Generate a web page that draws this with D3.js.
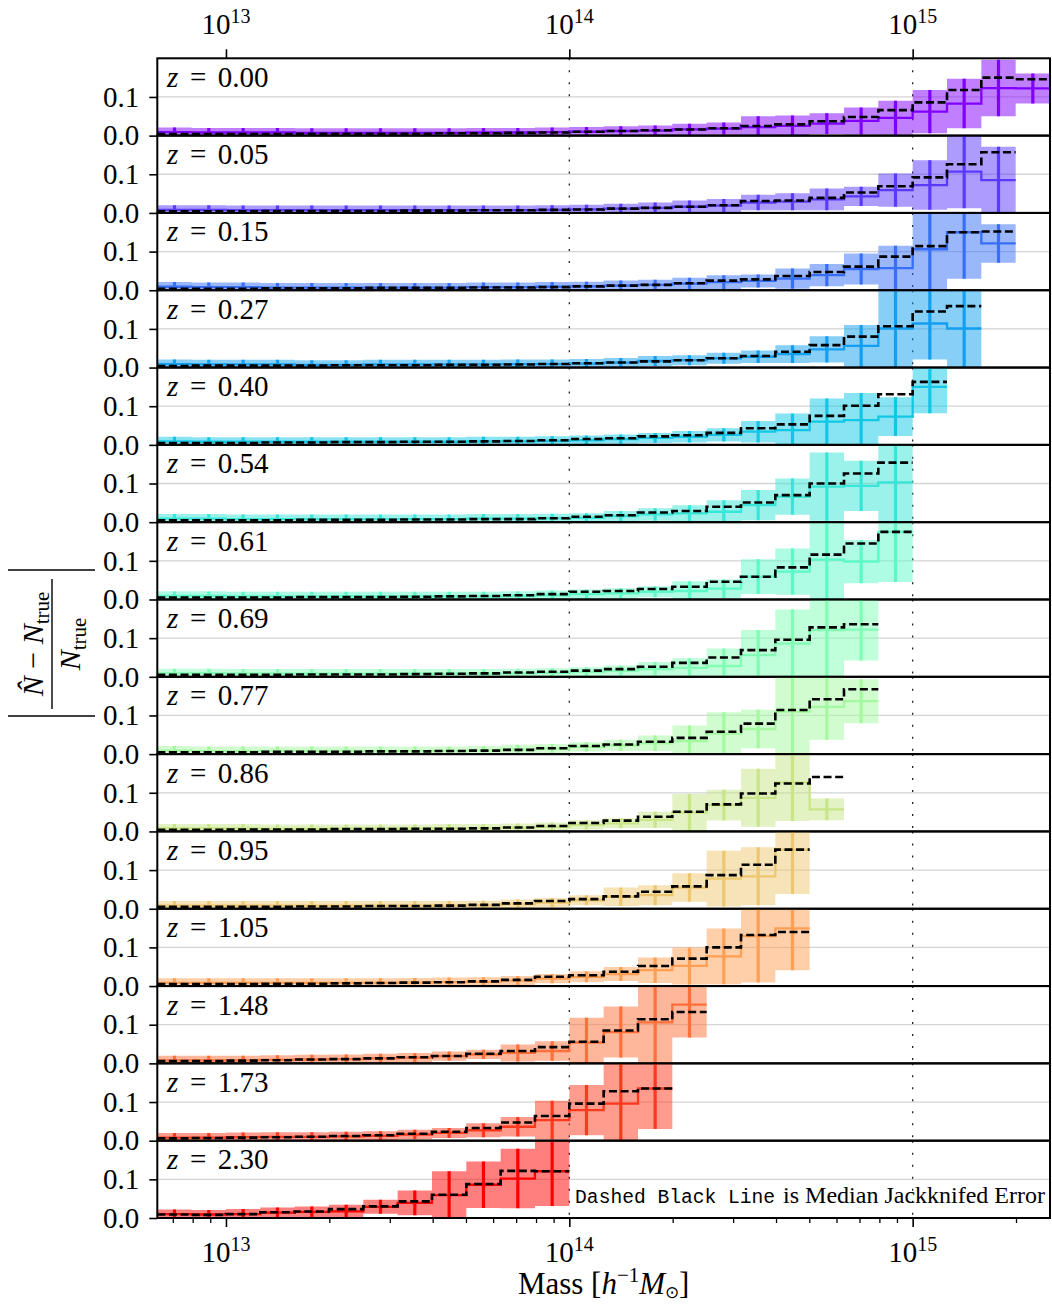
<!DOCTYPE html>
<html>
<head>
<meta charset="utf-8">
<script src="https://cdn.jsdelivr.net/npm/d3@7"></script>
<style>
  body { margin: 0; background: #fff; }
  svg { display: block; }
  text { font-family: "Liberation Serif", serif; fill: #000; }
</style>
</head>
<body>
<div class="chart"></div>
<script>
// redshift of each panel
const redshifts = ["0.00", "0.05", "0.15", "0.27", "0.40", "0.54", "0.61", "0.69", "0.77", "0.86", "0.95", "1.05", "1.48", "1.73", "2.30"];

// mass bins: 0.1 dex wide, starting at 10^12.8
const logMassStart = 12.8;
const logBinWidth = 0.1;

// |N_hat - N_true| / N_true per bin (solid step line)
const fracErr = [
  [0.009,0.008,0.008,0.008,0.007,0.007,0.007,0.007,0.007,0.008,0.008,0.009,0.010,0.012,0.013,0.016,0.018,0.022,0.025,0.031,0.038,0.046,0.062,0.083,0.123,0.122],
  [0.008,0.008,0.007,0.007,0.007,0.007,0.007,0.007,0.007,0.007,0.007,0.008,0.009,0.011,0.013,0.016,0.019,0.027,0.029,0.035,0.043,0.059,0.072,0.107,0.085],
  [0.009,0.008,0.008,0.007,0.007,0.007,0.007,0.007,0.007,0.008,0.008,0.009,0.010,0.012,0.014,0.017,0.021,0.024,0.030,0.039,0.055,0.057,0.106,0.150,0.121],
  [0.009,0.008,0.008,0.008,0.007,0.007,0.008,0.008,0.008,0.008,0.009,0.009,0.010,0.013,0.017,0.019,0.024,0.028,0.035,0.047,0.056,0.101,0.114,0.101],
  [0.009,0.008,0.008,0.008,0.008,0.008,0.008,0.008,0.008,0.009,0.009,0.010,0.012,0.015,0.018,0.021,0.026,0.034,0.038,0.060,0.064,0.073,0.150],
  [0.009,0.009,0.008,0.008,0.008,0.008,0.008,0.008,0.008,0.009,0.009,0.010,0.011,0.016,0.020,0.023,0.027,0.044,0.066,0.092,0.094,0.103],
  [0.009,0.009,0.008,0.008,0.008,0.008,0.008,0.008,0.008,0.008,0.009,0.011,0.014,0.016,0.020,0.022,0.028,0.059,0.072,0.103,0.098,0.175],
  [0.009,0.009,0.008,0.008,0.008,0.008,0.008,0.008,0.008,0.008,0.009,0.010,0.013,0.016,0.020,0.023,0.028,0.056,0.086,0.121,0.122],
  [0.009,0.008,0.008,0.008,0.008,0.008,0.008,0.008,0.008,0.009,0.012,0.014,0.019,0.023,0.028,0.034,0.053,0.065,0.110,0.122,0.137],
  [0.008,0.008,0.008,0.007,0.007,0.007,0.007,0.007,0.008,0.008,0.0095,0.012,0.017,0.021,0.030,0.049,0.068,0.087,0.127,0.057],
  [0.008,0.008,0.008,0.008,0.008,0.008,0.008,0.008,0.008,0.009,0.012,0.016,0.022,0.031,0.035,0.055,0.078,0.084,0.153],
  [0.008,0.008,0.008,0.008,0.008,0.008,0.008,0.009,0.010,0.011,0.014,0.019,0.024,0.031,0.041,0.052,0.077,0.129,0.149],
  [0.008,0.008,0.008,0.009,0.010,0.011,0.013,0.015,0.019,0.023,0.027,0.032,0.054,0.081,0.106,0.152],
  [0.008,0.008,0.009,0.010,0.010,0.011,0.0125,0.016,0.020,0.027,0.036,0.053,0.079,0.096,0.135],
  [0.010,0.009,0.010,0.014,0.016,0.017,0.029,0.039,0.059,0.086,0.102,0.121]
];

// spread of the error per bin (shaded band and error bars)
const fracErrSpread = [
  [0.012,0.012,0.012,0.012,0.012,0.012,0.012,0.012,0.012,0.012,0.012,0.012,0.012,0.012,0.013,0.015,0.016,0.028,0.027,0.027,0.035,0.044,0.056,0.064,0.073,0.039],
  [0.012,0.012,0.012,0.012,0.012,0.012,0.012,0.012,0.012,0.012,0.012,0.012,0.012,0.013,0.014,0.016,0.017,0.020,0.022,0.028,0.025,0.043,0.064,0.095,0.086],
  [0.012,0.012,0.012,0.012,0.012,0.012,0.012,0.012,0.012,0.012,0.012,0.012,0.012,0.013,0.013,0.015,0.018,0.017,0.026,0.029,0.040,0.058,0.110,0.120,0.050],
  [0.012,0.012,0.012,0.012,0.012,0.012,0.012,0.012,0.012,0.012,0.012,0.012,0.012,0.012,0.013,0.013,0.014,0.016,0.023,0.034,0.054,0.110,0.093,0.110],
  [0.012,0.012,0.012,0.012,0.012,0.012,0.012,0.012,0.012,0.012,0.012,0.012,0.012,0.012,0.013,0.015,0.017,0.028,0.043,0.060,0.070,0.050,0.068],
  [0.012,0.012,0.012,0.012,0.012,0.012,0.012,0.012,0.012,0.012,0.012,0.012,0.012,0.013,0.016,0.021,0.030,0.039,0.047,0.088,0.065,0.110],
  [0.012,0.012,0.012,0.012,0.012,0.012,0.012,0.012,0.012,0.012,0.012,0.012,0.012,0.013,0.014,0.025,0.024,0.045,0.060,0.110,0.056,0.130],
  [0.012,0.012,0.012,0.012,0.012,0.012,0.012,0.012,0.012,0.012,0.012,0.012,0.012,0.013,0.018,0.025,0.045,0.065,0.088,0.125,0.080],
  [0.012,0.012,0.012,0.012,0.012,0.012,0.012,0.012,0.012,0.012,0.012,0.012,0.012,0.014,0.020,0.040,0.055,0.050,0.110,0.085,0.057],
  [0.011,0.011,0.011,0.011,0.011,0.011,0.011,0.011,0.011,0.011,0.011,0.011,0.012,0.013,0.021,0.048,0.040,0.075,0.100,0.028],
  [0.012,0.012,0.012,0.012,0.012,0.012,0.012,0.012,0.012,0.012,0.012,0.012,0.013,0.024,0.026,0.037,0.072,0.075,0.115],
  [0.012,0.012,0.012,0.012,0.012,0.012,0.012,0.012,0.012,0.012,0.012,0.012,0.014,0.018,0.033,0.048,0.072,0.120,0.108],
  [0.012,0.012,0.012,0.012,0.012,0.012,0.012,0.012,0.012,0.012,0.022,0.025,0.064,0.066,0.120,0.085],
  [0.012,0.012,0.012,0.012,0.012,0.012,0.012,0.012,0.013,0.018,0.025,0.050,0.065,0.110,0.105],
  [0.012,0.012,0.013,0.013,0.014,0.017,0.018,0.032,0.062,0.060,0.077,0.090]
];

// median jackknifed error per bin (dashed black line)
const medianJackknife = [
  [0.004,0.004,0.004,0.004,0.005,0.005,0.005,0.005,0.006,0.006,0.007,0.008,0.010,0.012,0.014,0.016,0.019,0.025,0.029,0.037,0.048,0.066,0.086,0.118,0.150,0.146],
  [0.004,0.004,0.004,0.005,0.005,0.005,0.005,0.006,0.006,0.007,0.007,0.008,0.009,0.011,0.013,0.016,0.020,0.031,0.032,0.039,0.053,0.069,0.092,0.126,0.157],
  [0.004,0.004,0.004,0.005,0.005,0.005,0.006,0.006,0.006,0.007,0.007,0.008,0.010,0.012,0.014,0.018,0.025,0.028,0.037,0.047,0.061,0.087,0.114,0.150,0.152],
  [0.004,0.005,0.005,0.005,0.005,0.006,0.006,0.006,0.007,0.007,0.008,0.009,0.011,0.013,0.016,0.019,0.024,0.030,0.041,0.058,0.080,0.107,0.145,0.159],
  [0.005,0.005,0.005,0.006,0.006,0.007,0.007,0.008,0.008,0.009,0.010,0.012,0.015,0.017,0.022,0.025,0.031,0.043,0.053,0.075,0.101,0.131,0.163],
  [0.005,0.005,0.005,0.005,0.006,0.006,0.006,0.007,0.007,0.008,0.008,0.010,0.014,0.018,0.025,0.029,0.040,0.051,0.070,0.100,0.126,0.154],
  [0.005,0.005,0.005,0.005,0.006,0.006,0.006,0.007,0.008,0.009,0.011,0.014,0.020,0.022,0.027,0.033,0.046,0.059,0.083,0.116,0.145,0.175],
  [0.005,0.005,0.005,0.005,0.006,0.006,0.006,0.007,0.008,0.009,0.011,0.013,0.016,0.020,0.026,0.036,0.050,0.069,0.096,0.128,0.136],
  [0.005,0.005,0.005,0.006,0.006,0.006,0.007,0.007,0.008,0.009,0.011,0.015,0.021,0.025,0.032,0.042,0.058,0.079,0.114,0.142,0.168],
  [0.004,0.004,0.005,0.005,0.005,0.006,0.006,0.007,0.007,0.008,0.010,0.014,0.022,0.028,0.038,0.051,0.070,0.098,0.124,0.141],
  [0.005,0.005,0.005,0.005,0.006,0.006,0.007,0.007,0.008,0.010,0.014,0.020,0.025,0.032,0.044,0.058,0.087,0.114,0.153],
  [0.005,0.005,0.005,0.006,0.006,0.007,0.008,0.009,0.010,0.012,0.016,0.024,0.028,0.037,0.052,0.071,0.100,0.132,0.140],
  [0.006,0.006,0.007,0.008,0.010,0.011,0.013,0.016,0.019,0.025,0.032,0.042,0.056,0.085,0.114,0.133],
  [0.006,0.007,0.008,0.009,0.010,0.012,0.014,0.018,0.023,0.033,0.047,0.064,0.096,0.128,0.135],
  [0.009,0.008,0.010,0.015,0.017,0.023,0.030,0.043,0.060,0.088,0.122,0.121]
];

const yTicks = [0.0, 0.1];
const xMajorTicks = [1e13, 1e14, 1e15];
const xMajorExp = ["13", "14", "15"];

// ---- layout ----
const svgW = 1052, svgH = 1306;
const plotLeft = 157.3, plotRight = 1050, plotTop = 58.3, plotBottom = 1218;
const nPanels = redshifts.length;
const panelH = (plotBottom - plotTop) / nPanels;

const x = d3.scaleLog().domain([10 ** 12.8, 10 ** 15.4]).range([plotLeft, plotRight]);
const y = d3.scaleLinear().domain([0, 0.2]).range([panelH, 0]);

// matplotlib "rainbow" colormap
function rainbow(t) {
  const r = Math.min(1, Math.abs(2 * t - 0.5));
  const g = Math.sin(Math.PI * t);
  const b = Math.cos(Math.PI * t / 2);
  return d3.rgb(r * 255, g * 255, b * 255).formatHex();
}

const svg = d3.select(".chart").append("svg")
  .attr("width", svgW).attr("height", svgH);

const edge = (k) => 10 ** (logMassStart + logBinWidth * k);
const center = (k) => 10 ** (logMassStart + logBinWidth * (k + 0.5));

const stepLine = d3.line().curve(d3.curveStepAfter)
  .x((d) => x(d.m)).y((d) => y(d.v));
const stepArea = d3.area().curve(d3.curveStepAfter)
  .x((d) => x(d.m)).y0((d) => y(d.v - d.e)).y1((d) => y(d.v + d.e));

redshifts.forEach((z, p) => {
  const color = rainbow(p / (nPanels - 1));
  const vals = fracErr[p], errs = fracErrSpread[p], meds = medianJackknife[p];
  const n = vals.length;

  const pts = vals.map((v, k) => ({ m: edge(k), v: v, e: errs[k] }));
  pts.push({ m: edge(n), v: vals[n - 1], e: errs[n - 1] });
  const medPts = meds.map((v, k) => ({ m: edge(k), v: v }));
  medPts.push({ m: edge(n), v: meds[n - 1] });

  const g = svg.append("g").attr("transform", `translate(0,${plotTop + p * panelH})`);

  g.append("clipPath").attr("id", "clip" + p)
    .append("rect").attr("x", plotLeft).attr("y", 0)
    .attr("width", plotRight - plotLeft).attr("height", panelH);

  const inner = g.append("g").attr("clip-path", `url(#clip${p})`);

  // grid line at 0.1
  inner.append("line")
    .attr("x1", plotLeft).attr("x2", plotRight)
    .attr("y1", y(0.1)).attr("y2", y(0.1))
    .attr("stroke", "#d4d4d4").attr("stroke-width", 1.3);

  // dotted verticals at 1e14, 1e15
  inner.selectAll(".vline").data([1e14, 1e15]).enter().append("line")
    .attr("x1", (d) => x(d)).attr("x2", (d) => x(d))
    .attr("y1", 0).attr("y2", panelH)
    .attr("stroke", "#222").attr("stroke-width", 1.3)
    .attr("stroke-dasharray", "2,10");

  // shaded band
  inner.append("path").datum(pts)
    .attr("d", stepArea)
    .attr("fill", color).attr("fill-opacity", 0.5);

  // solid step
  inner.append("path").datum(pts)
    .attr("d", stepLine)
    .attr("fill", "none").attr("stroke", color).attr("stroke-width", 2.3);

  // error bars
  inner.selectAll(".ebar").data(vals).enter().append("line")
    .attr("x1", (d, k) => x(center(k))).attr("x2", (d, k) => x(center(k)))
    .attr("y1", (d, k) => y(d - errs[k])).attr("y2", (d, k) => y(d + errs[k]))
    .attr("stroke", color).attr("stroke-width", 3.2);

  // median jackknifed error
  inner.append("path").datum(medPts)
    .attr("d", stepLine)
    .attr("fill", "none").attr("stroke", "#000").attr("stroke-width", 2.6)
    .attr("stroke-dasharray", "8,3.6");

  // frame
  g.append("rect")
    .attr("x", plotLeft).attr("y", 0)
    .attr("width", plotRight - plotLeft).attr("height", panelH)
    .attr("fill", "none").attr("stroke", "#000").attr("stroke-width", 2);

  // y axis
  const yAxis = d3.axisLeft(y).tickValues(yTicks).tickFormat(d3.format(".1f"))
    .tickSize(8).tickPadding(10);
  const ya = g.append("g").attr("transform", `translate(${plotLeft},0)`).call(yAxis);
  ya.select(".domain").remove();
  ya.selectAll("line").attr("stroke-width", 1.6);
  ya.selectAll("text").style("font-size", "29px").style("font-family", "Liberation Serif");

  // panel label
  const lab = g.append("text").attr("x", 167).attr("y", 28.5)
    .style("font-size", "29px");
  lab.append("tspan").style("font-style", "italic").text("z");
  lab.append("tspan").attr("dx", "0.4em").text("=");
  lab.append("tspan").attr("dx", "0.4em").text(z);
});

// ---- x axes: top has major ticks only, bottom has major and minor ----
const minorTicks = x.ticks().filter((d) => !xMajorTicks.includes(d));

function drawXAxis(axisFn, yPos, labelY, withMinor) {
  const major = axisFn(x).tickValues(xMajorTicks).tickFormat("").tickSize(9);
  const ga = svg.append("g").attr("transform", `translate(0,${yPos})`).call(major);
  ga.select(".domain").remove();
  ga.selectAll("line").attr("stroke-width", 1.6);
  if (withMinor) {
    const minor = axisFn(x).tickValues(minorTicks).tickFormat("").tickSize(5);
    const gm = svg.append("g").attr("transform", `translate(0,${yPos})`).call(minor);
    gm.select(".domain").remove();
    gm.selectAll("line").attr("stroke-width", 1.3);
  }
  xMajorTicks.forEach((t, i) => {
    const txt = svg.append("text").attr("x", x(t)).attr("y", labelY)
      .attr("text-anchor", "middle").style("font-size", "29px");
    txt.append("tspan").text("10");
    txt.append("tspan").attr("dy", -11).style("font-size", "20px").text(xMajorExp[i]);
  });
}
drawXAxis(d3.axisTop, plotTop, 34, false);
drawXAxis(d3.axisBottom, plotBottom, 1262, true);

// x label
const xl = svg.append("text").attr("x", (plotLeft + plotRight) / 2).attr("y", 1294)
  .attr("text-anchor", "middle").style("font-size", "31px");
xl.append("tspan").text("Mass [");
xl.append("tspan").style("font-style", "italic").text("h");
xl.append("tspan").attr("dy", -12).style("font-size", "21px").text("\u22121");
xl.append("tspan").attr("dy", 12).style("font-style", "italic").text("M");
xl.append("tspan").attr("dy", 4).style("font-size", "17px").text("\u2299");
xl.append("tspan").attr("dy", -4).text("]");

// y label: |(N_hat - N_true) / N_true|
const yl = svg.append("g").attr("transform", "translate(52,641) rotate(-90)");
yl.append("line").attr("x1", -68).attr("x2", 62).attr("y1", 0).attr("y2", 0)
  .attr("stroke", "#000").attr("stroke-width", 1.4);
[-75, 71].forEach((xx) => {
  yl.append("line").attr("x1", xx).attr("x2", xx).attr("y1", -44).attr("y2", 43)
    .attr("stroke", "#000").attr("stroke-width", 1.4);
});
const num = yl.append("text").attr("x", -3).attr("y", -9)
  .attr("text-anchor", "middle").style("font-size", "30px");
num.append("tspan").style("font-style", "italic").text("N\u0302");
num.append("tspan").text(" \u2212 ");
num.append("tspan").style("font-style", "italic").text("N");
num.append("tspan").attr("dy", 6).style("font-size", "21px").text("true");
const den = yl.append("text").attr("x", -3).attr("y", 28)
  .attr("text-anchor", "middle").style("font-size", "30px");
den.append("tspan").style("font-style", "italic").text("N");
den.append("tspan").attr("dy", 6).style("font-size", "21px").text("true");

// note in the last panel: typewriter part, then serif part
svg.append("text").attr("x", 775).attr("y", 1203)
  .attr("text-anchor", "end")
  .style("font-family", "'Liberation Mono', 'DejaVu Sans Mono', monospace")
  .style("font-size", "19.6px")
  .text("Dashed Black Line");
svg.append("text").attr("x", 1045).attr("y", 1203)
  .attr("text-anchor", "end")
  .style("font-size", "24px")
  .text("is Median Jackknifed Error");
</script>
</body>
</html>
